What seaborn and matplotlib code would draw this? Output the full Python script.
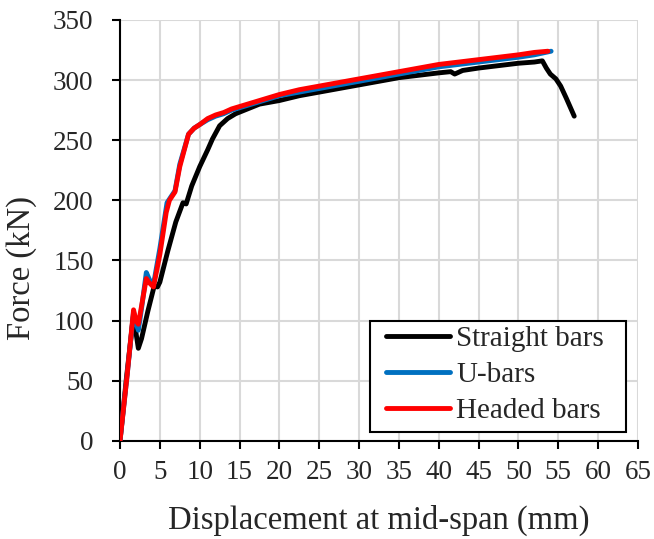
import matplotlib
matplotlib.use("Agg")
import matplotlib.pyplot as plt
import matplotlib.patches as mpatches
import seaborn as sns
import pandas as pd

# Straight bars
straight_x = [0, 0.8, 1.7, 2.0, 2.3, 2.7, 3.5, 4.3, 4.7, 5.0, 6.0, 7.0, 7.9, 8.3, 9.0, 10.0, 11.0,
              11.6, 12.5, 13.5, 14.5, 16, 17.5, 20, 22.5, 25, 27.5, 30, 32.5, 35, 37.5, 40, 41.5,
              42, 43, 45, 47.5, 50, 52, 53.0, 53.5, 54.0, 54.7, 55.3, 56, 57]
straight_y = [0, 52, 105, 90, 77, 85, 108, 129, 128, 132, 158, 182, 198, 197, 212, 228, 242,
              251, 262, 268, 272, 276, 280, 283, 287, 290, 293, 296, 299, 302, 304, 306, 307,
              305, 308, 310, 312, 314, 315, 316, 310, 305, 301, 295, 285, 270]

# U-bars
ubars_x = [0, 0.9, 1.7, 2.0, 2.3, 2.7, 3.3, 3.7, 4.2, 5.0, 5.9, 6.3, 6.9, 7.5, 8.6, 9.3, 10, 11,
           12, 13, 14, 16, 18, 20, 22.5, 25, 27.5, 30, 32.5, 35, 37.5, 40, 42.5, 45, 47.5, 50,
           52, 54.1]
ubars_y = [0, 55, 107, 98, 92, 110, 140, 134, 130, 160, 198, 202, 208, 230, 255, 260, 263, 267,
           270, 272, 275, 279, 283, 287, 290, 293, 296, 299, 302, 305, 308, 311, 313, 315, 317,
           319, 321, 324]

# Headed bars
headed_x = [0, 0.9, 1.7, 2.0, 2.3, 2.7, 3.3, 3.6, 4.2, 5.0, 5.8, 6.2, 6.9, 7.5, 8.6, 9.3, 10, 11,
            12, 13, 14, 16, 18, 20, 22.5, 25, 27.5, 30, 32.5, 35, 37.5, 40, 42.5, 45, 47.5, 50,
            52, 53.7]
headed_y = [0, 55, 109, 100, 97, 112, 135, 132, 128, 155, 190, 200, 207, 228, 255, 260, 263, 268,
            271, 273, 276, 280, 284, 288, 292, 295, 298, 301, 304, 307, 310, 313, 315, 317, 319,
            321, 323, 324]

labels = ["Straight bars", "U-bars", "Headed bars"]
colors = ["#000000", "#0070C0", "#FF0000"]

sns.set_style("white")
plt.rcParams["font.family"] = ["Liberation Serif", "DejaVu Serif"]

fig = plt.figure(figsize=(6.54, 5.39), dpi=100)
ax = fig.add_axes([0.1835, 0.182, 0.792, 0.781])

for xs, ys, lab, c in zip([straight_x, ubars_x, headed_x],
                          [straight_y, ubars_y, headed_y], labels, colors):
    df = pd.DataFrame({"x": xs, "y": ys})
    sns.lineplot(data=df, x="x", y="y", ax=ax, sort=False, estimator=None,
                 color=c, linewidth=3.5, label=lab, zorder=3)

ax.set_xlim(0, 65)
ax.set_ylim(0, 350)
ax.set_xticks(range(0, 66, 5))
ax.set_yticks(range(0, 351, 50))
ax.grid(True, color="#d9d9d9", linewidth=1.5)
ax.set_axisbelow(True)
for s in ["top", "right"]:
    ax.spines[s].set_visible(False)
for s in ["left", "bottom"]:
    ax.spines[s].set_color("black")
    ax.spines[s].set_linewidth(1.5)
ax.tick_params(axis="both", direction="out", length=6, width=1.5, color="black",
               labelsize=19.5, bottom=True, left=True)
ax.tick_params(axis="y", pad=13)
ax.tick_params(axis="x", pad=8)
ax.set_xlabel("Displacement at mid-span (mm)", fontsize=23.5)
ax.set_ylabel("Force (kN)", fontsize=23.5)
ax.xaxis.set_label_coords(0.5, -0.151)
ax.yaxis.set_label_coords(-0.16, 0.41)

# legend frame
frame = mpatches.Rectangle((0.4826, 0.0214), 0.4942, 0.2636, transform=ax.transAxes,
                           facecolor="white", edgecolor="black", linewidth=1.5, zorder=4)
ax.add_patch(frame)

leg = ax.legend(loc="center left", bbox_to_anchor=(0.5135, 0.1568), fontsize=21,
                frameon=False, handlelength=2.2, borderpad=0, labelspacing=0.32,
                handletextpad=0.2, borderaxespad=0)
leg.set_zorder(5)

fig.savefig("out.png", dpi=100)
